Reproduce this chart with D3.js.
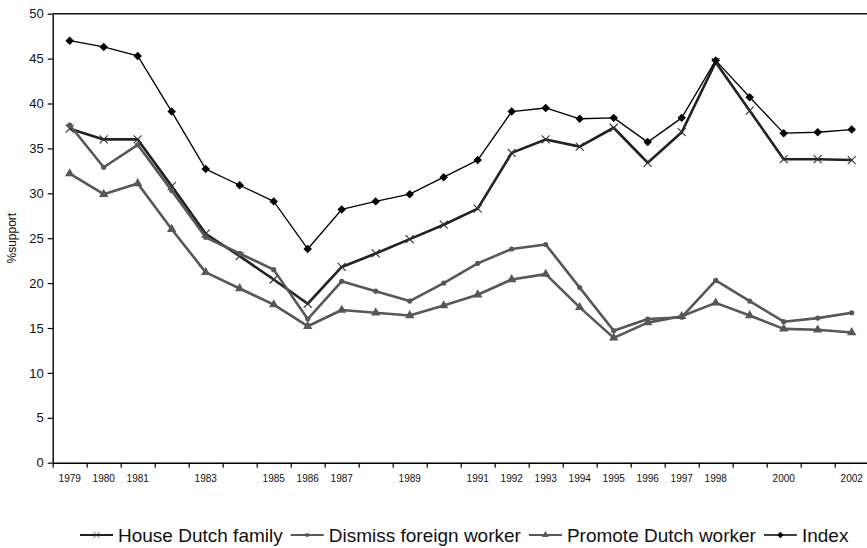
<!DOCTYPE html>
<html>
<head>
<meta charset="utf-8">
<script src="https://cdn.jsdelivr.net/npm/d3@7"></script>
<style>
  body { margin: 0; background: #fff; }
  svg text { font-family: "Liberation Sans", Arial, Helvetica, sans-serif; }
</style>
</head>
<body>
<div id="chart"></div>
<script>
const years = d3.range(1979, 2003);
const labelYears = [1979, 1980, 1981, 1983, 1985, 1986, 1987, 1989, 1991, 1992, 1993, 1994,
                    1995, 1996, 1997, 1998, 2000, 2002];
const yTicks = [0, 5, 10, 15, 20, 25, 30, 35, 40, 45, 50];

const houseDutchFamily = [37.2, 36.0, 36.0, 30.8, 25.5, 23.0, 20.4, 17.7, 21.8, 23.3, 24.9, 26.5,
                          28.3, 34.5, 36.0, 35.2, 37.3, 33.4, 36.8, 44.6, 39.2, 33.8, 33.8, 33.7];
const dismissForeignWorker = [37.6, 32.9, 35.4, 30.3, 25.1, 23.3, 21.5, 16.0, 20.2, 19.1, 18.0, 20.0,
                              22.2, 23.8, 24.3, 19.5, 14.7, 16.0, 16.2, 20.3, 18.0, 15.7, 16.1, 16.7];
const promoteDutchWorker = [32.2, 29.9, 31.1, 26.0, 21.2, 19.4, 17.6, 15.2, 17.0, 16.7, 16.4, 17.5,
                            18.7, 20.4, 21.0, 17.3, 13.9, 15.6, 16.3, 17.8, 16.4, 14.9, 14.8, 14.5];
const indexValues = [47.0, 46.3, 45.3, 39.1, 32.7, 30.9, 29.1, 23.8, 28.2, 29.1, 29.9, 31.8,
                     33.7, 39.1, 39.5, 38.3, 38.4, 35.7, 38.4, 44.8, 40.7, 36.7, 36.8, 37.1];

const series = [
  { name: "House Dutch family", values: houseDutchFamily, color: "#222", width: 2.6, marker: "x" },
  { name: "Dismiss foreign worker", values: dismissForeignWorker, color: "#575757", width: 2.6, marker: "circle" },
  { name: "Promote Dutch worker", values: promoteDutchWorker, color: "#575757", width: 2.6, marker: "triangle" },
  { name: "Index", values: indexValues, color: "#000", width: 1.3, marker: "diamond" }
];

const W = 867, H = 548;
const plotLeft = 52.7, plotTop = 13.7, plotBottom = 462.7, bandW = 34;

const svg = d3.select("#chart").append("svg")
    .attr("width", W)
    .attr("height", H);

const x = d3.scaleBand().domain(years).range([plotLeft, plotLeft + bandW * years.length]).padding(0);
const xEdge = d3.scaleLinear().domain([1979, 2003]).range([plotLeft, plotLeft + bandW * years.length]);
const y = d3.scaleLinear().domain([0, 50]).range([plotBottom, plotTop]);

// top frame line
svg.append("line")
   .attr("x1", plotLeft).attr("x2", W)
   .attr("y1", plotTop).attr("y2", plotTop)
   .attr("stroke", "#111").attr("stroke-width", 1.4);

// y axis
let yAxis = svg.append("g")
   .attr("transform", `translate(${plotLeft},0)`)
   .call(d3.axisLeft(y).tickValues(yTicks).tickSize(5).tickSizeOuter(0));
yAxis.select(".domain").attr("stroke", "#000").attr("stroke-width", 1.4);
yAxis.selectAll(".tick line").attr("stroke", "#000").attr("stroke-width", 1.2);
yAxis.selectAll(".tick text")
     .attr("font-size", 13).attr("fill", "#111").attr("x", -9);

// x axis: tick marks between categories, labels centred in bands
let xTicks = svg.append("g")
   .attr("transform", `translate(0,${plotBottom})`)
   .call(d3.axisBottom(xEdge).tickValues(d3.range(1979, 2003)).tickFormat("").tickSize(5).tickSizeOuter(0));
xTicks.select(".domain").attr("stroke", "#000").attr("stroke-width", 1.4);
xTicks.selectAll(".tick line").attr("stroke", "#000").attr("stroke-width", 1.2);

let xLabels = svg.append("g")
   .attr("transform", `translate(0,${plotBottom})`)
   .call(d3.axisBottom(x).tickValues(labelYears).tickSize(0));
xLabels.select(".domain").remove();
xLabels.selectAll(".tick text")
       .attr("font-size", 10).attr("fill", "#111").attr("y", 12);

// y axis title
svg.append("text")
   .attr("transform", `translate(16,${(plotTop + plotBottom) / 2}) rotate(-90)`)
   .attr("text-anchor", "middle")
   .attr("font-size", 12)
   .attr("fill", "#111")
   .text("%support");

let drawMarker = (g, s, cx, cy) => {
  if (s.marker === "x") {
    g.append("path")
     .attr("transform", `translate(${cx},${cy})`)
     .attr("d", "M-4,-4L4,4M-4,4L4,-4")
     .attr("stroke", "#333").attr("stroke-width", 1.1).attr("fill", "none");
  } else if (s.marker === "circle") {
    g.append("circle")
     .attr("cx", cx).attr("cy", cy).attr("r", 2.6)
     .attr("fill", s.color);
  } else if (s.marker === "triangle") {
    g.append("path")
     .attr("transform", `translate(${cx},${cy})`)
     .attr("d", d3.symbol().type(d3.symbolTriangle).size(38)())
     .attr("fill", s.color);
  } else {
    g.append("path")
     .attr("transform", `translate(${cx},${cy}) rotate(45)`)
     .attr("d", d3.symbol().type(d3.symbolSquare).size(36)())
     .attr("fill", s.color);
  }
};

const line = d3.line()
    .x((d, i) => x(years[i]) + x.bandwidth() / 2)
    .y(d => y(d));

series.forEach(s => {
  let g = svg.append("g");
  g.append("path")
   .attr("d", line(s.values))
   .attr("fill", "none")
   .attr("stroke", s.color)
   .attr("stroke-width", s.width)
   .attr("stroke-linejoin", "round");
  s.values.forEach((v, i) => drawMarker(g, s, x(years[i]) + x.bandwidth() / 2, y(v)));
});

// legend
let legend = svg.append("g");
let lx = 80;
const ly = 535;
series.forEach(s => {
  legend.append("line")
        .attr("x1", lx).attr("x2", lx + 33)
        .attr("y1", ly).attr("y2", ly)
        .attr("stroke", s.color).attr("stroke-width", s.width === 1.3 ? 1.5 : 2.2);
  let mg = legend.append("g").attr("transform", `translate(${lx + 16.5},${ly}) scale(0.75)`);
  drawMarker(mg, s, 0, 0);
  let t = legend.append("text")
        .attr("x", lx + 38).attr("y", ly + 6.8)
        .attr("font-size", 19)
        .attr("fill", "#111")
        .text(s.name);
  lx = lx + 38 + t.node().getComputedTextLength() + 8;
});
</script>
</body>
</html>
